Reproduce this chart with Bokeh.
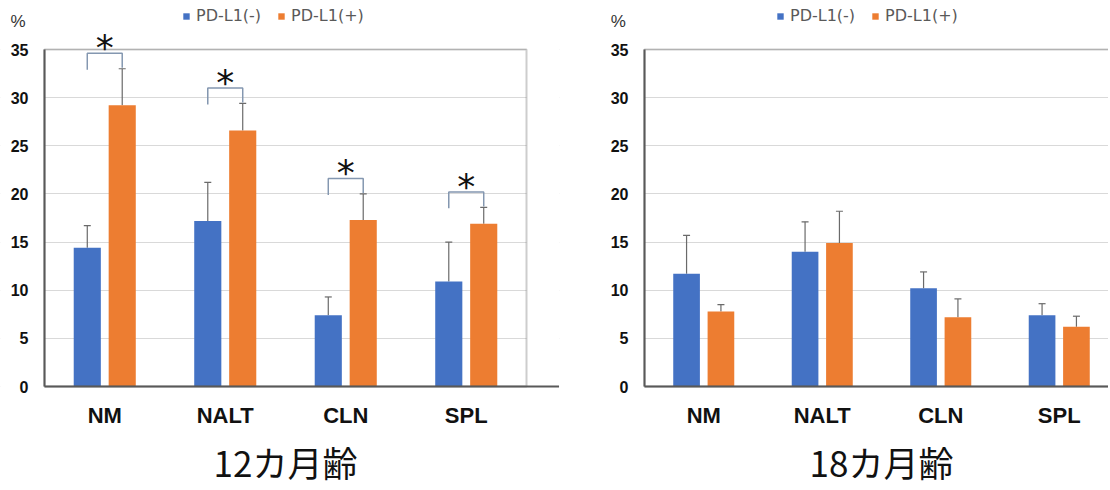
import numpy as np
from bokeh.plotting import figure
from bokeh.models import (Range1d, FixedTicker, Legend, LegendItem, Label, LabelSet,
                          Whisker, TeeHead, ColumnDataSource, BoxAnnotation)
from bokeh.layouts import row
from bokeh.embed import file_html
from bokeh.resources import INLINE
from bokeh.core.properties import value

categories = ["NM", "NALT", "CLN", "SPL"]
series_names = ["PD-L1(-)", "PD-L1(+)"]

# 12 months
neg_12 = [14.4, 17.2, 7.4, 10.9]
neg_12_err = [16.7, 21.2, 9.3, 15.0]
pos_12 = [29.2, 26.6, 17.3, 16.9]
pos_12_err = [33.0, 29.4, 20.0, 18.6]
signif_12 = [True, True, True, True]

# 18 months
neg_18 = [11.7, 14.0, 10.2, 7.4]
neg_18_err = [15.7, 17.1, 11.9, 8.6]
pos_18 = [7.8, 14.9, 7.2, 6.2]
pos_18_err = [8.5, 18.2, 9.1, 7.3]
signif_18 = [False, False, False, False]

y_ticks = [0, 5, 10, 15, 20, 25, 30, 35]
y_max = 35
titles = ["12カ月齢", "18カ月齢"]

BLUE = "#4472C4"
ORANGE = "#ED7D31"
AXIS = "#595959"
FIG_H = 489
Y0_PX = 386      # pixel row (from figure top) of value 0
YTOP_PX = 49     # pixel row of value 35


def make_chart(neg, neg_err, pos, pos_err, signif, title, width, x0_px, cat_px,
               full_box, legend_x):
    ppu_y = (Y0_PX - YTOP_PX) / y_max
    y_start = -(FIG_H - Y0_PX) / ppu_y
    y_end = y_max + YTOP_PX / ppu_y
    x_start = -x0_px / cat_px
    x_end = (width - x0_px) / cat_px
    ncat = len(categories)
    p = figure(width=width, height=FIG_H, x_range=Range1d(x_start, x_end),
               y_range=Range1d(y_start, y_end),
               output_backend="svg", toolbar_location=None, title=None,
               min_border_left=0, min_border_right=0, min_border_top=0, min_border_bottom=0)
    p.background_fill_color = "white"
    p.border_fill_color = "white"
    p.outline_line_color = None

    idx = np.arange(ncat) + 0.5
    off = 0.145
    bw = 0.225
    s_neg = ColumnDataSource(dict(x=idx - off, top=neg, err=neg_err))
    s_pos = ColumnDataSource(dict(x=idx + off, top=pos, err=pos_err))
    r1 = p.vbar(x="x", top="top", width=bw, source=s_neg, fill_color=BLUE, line_color=None)
    r2 = p.vbar(x="x", top="top", width=bw, source=s_pos, fill_color=ORANGE, line_color=None)
    for s in (s_neg, s_pos):
        w = Whisker(source=s, base="x", lower="top", upper="err", line_color="#6a6a6a",
                    line_width=1.2, lower_head=None,
                    upper_head=TeeHead(size=7, line_color="#6a6a6a", line_width=1.2))
        p.add_layout(w)

    # mask grid lines outside the plot box
    p.add_layout(BoxAnnotation(right=0, fill_color="white", fill_alpha=1, line_color=None,
                               level="glyph"))
    if full_box:
        p.add_layout(BoxAnnotation(left=ncat, fill_color="white", fill_alpha=1,
                                   line_color=None, level="glyph"))
        box_right = ncat
    else:
        box_right = x_end + 1
    p.add_layout(BoxAnnotation(left=0, right=box_right, bottom=0, top=y_max, fill_alpha=0,
                               line_color=AXIS, line_width=2))

    # significance brackets
    xs, ys, ax, ay = [], [], [], []
    for i, sg in enumerate(signif):
        if not sg:
            continue
        m = max(neg_err[i], pos_err[i])
        xl, xr = idx[i] - off, idx[i] + off
        xs.append([xl, xl, xr, xr])
        ys.append([m - 0.1, m + 1.6, m + 1.6, m + 0.1])
        ax.append(idx[i])
        ay.append(m + 0.9)
    if xs:
        p.multi_line(xs=xs, ys=ys, line_color="#8497b0", line_width=1.5)
        ls = LabelSet(source=ColumnDataSource(dict(x=ax, y=ay, t=["*"] * len(ax))),
                      x="x", y="y", text="t", text_align="center", text_baseline="alphabetic",
                      text_font=value("DejaVu Sans"), text_font_size="36px", text_color="#111111")
        p.add_layout(ls)

    # "%" unit label
    p.add_layout(Label(x=-0.22, y=y_max + 2.95, text="%", text_align="center",
                       text_baseline="middle", text_font="Liberation Sans",
                       text_font_size="17px", text_color="#333333"))
    # age title
    p.add_layout(Label(x=ncat / 2, y=-7.8, text=title, text_align="center",
                       text_baseline="middle", text_font="Noto Sans CJK JP",
                       text_font_size="35px", text_color="#111111"))

    # axes
    p.xaxis.fixed_location = 0
    p.xaxis.bounds = (0, x_end + 1)
    p.xaxis.ticker = FixedTicker(ticks=list(idx))
    p.xaxis.major_label_overrides = {float(v): c for v, c in zip(idx, categories)}
    p.xaxis.major_label_text_font = "Liberation Sans"
    p.xaxis.major_label_text_font_style = "bold"
    p.xaxis.major_label_text_font_size = "22px"
    p.xaxis.major_label_text_color = "#111111"
    p.xaxis.major_label_standoff = 16
    p.yaxis.fixed_location = 0
    p.yaxis.bounds = (0, y_max)
    p.yaxis.ticker = FixedTicker(ticks=y_ticks)
    p.yaxis.major_label_text_font = "Liberation Sans"
    p.yaxis.major_label_text_font_style = "bold"
    p.yaxis.major_label_text_font_size = "16px"
    p.yaxis.major_label_text_color = "#111111"
    p.yaxis.major_label_standoff = 16
    for a in (p.xaxis, p.yaxis):
        a.axis_line_color = AXIS
        a.axis_line_width = 2
        a.major_tick_line_color = None
        a.minor_tick_line_color = None
        a.major_tick_out = 0
        a.major_tick_in = 0
    p.xgrid.visible = False
    p.ygrid.grid_line_color = "#d9d9d9"
    p.ygrid.grid_line_width = 1

    legend = Legend(items=[LegendItem(label=series_names[0], renderers=[r1]),
                           LegendItem(label=series_names[1], renderers=[r2])],
                    orientation="horizontal", location=(legend_x, FIG_H - 25),
                    border_line_color=None, background_fill_alpha=0,
                    glyph_width=8, glyph_height=8, label_text_font="DejaVu Sans",
                    label_text_font_size="16px", label_text_color="#595959",
                    label_height=18, spacing=16, padding=0, margin=0, label_standoff=6)
    p.add_layout(legend, "center")
    return p


p1 = make_chart(neg_12, neg_12_err, pos_12, pos_12_err, signif_12, titles[0],
                559, 44, 120.5, True, 182)
p2 = make_chart(neg_18, neg_18_err, pos_18, pos_18_err, signif_18, titles[1],
                549, 85, 118.5, False, 217)

layout = row(p1, p2)
open("out.html", "w").write(file_html(layout, INLINE))
